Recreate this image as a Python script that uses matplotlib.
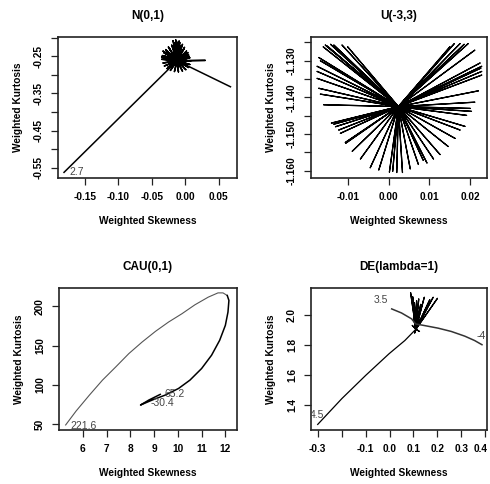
import matplotlib
matplotlib.use('Agg')
import matplotlib.pyplot as plt
import matplotlib.transforms as mtransforms

plt.rcParams['font.family'] = ['Liberation Sans', 'DejaVu Sans']

# ---- N(0,1) ----
n01_tail_x = [-0.181]
n01_tail_y = [-0.5625]
n01_center = (-0.012, -0.262)
n01_tip_x = [-0.034, -0.035, -0.033, -0.031, -0.027, -0.022, -0.016, -0.010, -0.004, 0.001,
             0.005, 0.007, 0.008, 0.007, 0.005, 0.002, -0.001, -0.004, -0.008, -0.012,
             -0.016, -0.020, -0.025, -0.029, -0.032, -0.018, -0.006, 0.004, -0.030, -0.026,
             -0.035, -0.033, -0.014, -0.009, 0.006, -0.024, -0.028, -0.002]
n01_tip_y = [-0.248, -0.258, -0.268, -0.276, -0.283, -0.288, -0.291, -0.292, -0.290, -0.286,
             -0.280, -0.272, -0.263, -0.254, -0.245, -0.236, -0.226, -0.218, -0.213, -0.212,
             -0.215, -0.220, -0.225, -0.232, -0.240, -0.208, -0.222, -0.240, -0.250, -0.280,
             -0.252, -0.236, -0.206, -0.209, -0.250, -0.228, -0.236, -0.230]
n01_end_x = [0.030, 0.0677]
n01_end_y = [-0.261, -0.332]
n01_label = ('2.7', -0.1615, -0.5615)

# ---- U(-3,3) ----
u_center = (0.0024, -1.1425)
u_tip_x = [-0.0155, -0.0142, -0.0134, -0.0114, -0.0171, -0.0167, -0.0175, -0.0175, -0.0175,
           -0.0171, -0.0167, -0.0159, -0.0150, -0.0160, -0.0100,
           0.0161, 0.0175, 0.0195, 0.0211, 0.0224, 0.0228, 0.0228, 0.0228, 0.0220,
           0.0185, 0.0226, 0.0150,
           0.0211, 0.0203, 0.0191, 0.0187, 0.0200,
           -0.0140, -0.0134, -0.0122, -0.0118, -0.0106, -0.0089, -0.0069, -0.0045,
           -0.0130, -0.0105,
           -0.0024, 0.0002, 0.0020, 0.0034, 0.0053, 0.0073, 0.0094, 0.0110, 0.0126,
           0.0146, 0.0163, 0.0175, 0.0010, 0.0085]
u_tip_y = [-1.1257, -1.1255, -1.1257, -1.1257, -1.1291, -1.1300, -1.1315, -1.1329, -1.1348,
           -1.1375, -1.1391, -1.1420, -1.1260, -1.1262, -1.1262,
           -1.1253, -1.1253, -1.1253, -1.1271, -1.1306, -1.1315, -1.1329, -1.1339, -1.1382,
           -1.1255, -1.1320, -1.1262,
           -1.1413, -1.1438, -1.1449, -1.1479, -1.1430,
           -1.1470, -1.1473, -1.1489, -1.1498, -1.1523, -1.1547, -1.1568, -1.1592,
           -1.1480, -1.1525,
           -1.1598, -1.1604, -1.1605, -1.1605, -1.1595, -1.1583, -1.1579, -1.1568, -1.1556,
           -1.1534, -1.1512, -1.1489, -1.1602, -1.1572]

# ---- CAU(0,1) ----
cau_x = [5.28, 5.72, 6.28, 6.83, 7.39, 7.94, 8.50, 9.06, 9.61, 10.17, 10.72, 11.28, 11.69,
         11.90, 12.08, 12.15, 12.11, 12.00, 11.76, 11.42, 11.00, 10.51, 10.03, 9.47, 8.92,
         8.43, 8.78, 9.26]
cau_y = [49.2, 66.9, 87.1, 106.1, 122.9, 139.8, 154.5, 168.0, 179.8, 190.3, 201.7, 211.4, 216.8,
         216.8, 213.5, 207.2, 192.4, 175.6, 156.6, 137.7, 120.8, 106.1, 95.5, 87.1, 80.8,
         74.5, 80.8, 88.0]
cau_labels = [('221.6', 6.02, 47.9), ('65.2', 9.85, 88.5), ('-30.4', 9.36, 77.4)]

# ---- DE(lambda=1) ----
de_line_x = [-0.300, -0.199, -0.099, -0.002, 0.064, 0.110]
de_line_y = [1.272, 1.444, 1.599, 1.742, 1.830, 1.905]
de_tip_x = [0.088, 0.097, 0.104, 0.113, 0.122, 0.130, 0.145, 0.155, 0.168, 0.182, 0.200,
            0.120, 0.100, 0.125, 0.095, 0.125, 0.105]
de_tip_y = [2.148, 2.120, 2.080, 2.095, 2.106, 2.070, 2.117, 2.040, 2.101, 2.117, 2.110,
            2.000, 1.980, 1.970, 1.930, 1.890, 1.880]
de_arc_x = [0.009, 0.050, 0.092, 0.109, 0.147, 0.203, 0.258, 0.314, 0.355, 0.386]
de_arc_y = [2.040, 2.013, 1.974, 1.940, 1.929, 1.912, 1.890, 1.859, 1.830, 1.802]
de_labels = [('3.5', -0.035, 2.097), ('-4', 0.383, 1.857), ('4.5', -0.303, 1.334)]


def spokes(center, tx, ty):
    xs, ys = [], []
    for x, y in zip(tx, ty):
        xs += [x, center[0]]
        ys += [y, center[1]]
    return xs, ys


def style_axes(ax, title, xlim, ylim, xticks, xlabels, yticks, ylabels):
    ax.set_xlim(*xlim)
    ax.set_ylim(*ylim)
    ax.set_xticks(xticks, xlabels, fontweight='bold')
    ax.set_yticks(yticks, ylabels, fontweight='bold')
    ax.tick_params(labelsize=7.3, length=5, width=0.9, pad=5, color='#222')
    ax.tick_params(axis='y', labelrotation=90)
    for lab in ax.get_yticklabels():
        lab.set_va('center')
    for s in ax.spines.values():
        s.set_linewidth(1.2)
        s.set_color('#222')
    ax.set_title(title, fontsize=8.5, fontweight='bold', pad=13)
    ax.set_xlabel('Weighted Skewness', fontsize=7.3, fontweight='bold')
    ax.set_ylabel('Weighted Kurtosis', fontsize=7.3, fontweight='bold')
    bb = ax.get_position()
    w_px = bb.width * 490
    h_px = bb.height * 484
    ax.xaxis.set_label_coords(0.5, -42.7 / h_px)
    ax.xaxis.label.set_va('center')
    ax.yaxis.set_label_coords(-40.0 / w_px, 0.5)
    ax.yaxis.label.set_va('center')


fig = plt.figure(figsize=(4.9, 4.84), dpi=100)
ax1 = fig.add_axes([58 / 490, 1 - 178 / 484, 179 / 490, 141 / 484])
ax2 = fig.add_axes([311 / 490, 1 - 178 / 484, 176 / 490, 141 / 484])
ax3 = fig.add_axes([59 / 490, 1 - 430 / 484, 178 / 490, 142 / 484])
ax4 = fig.add_axes([311 / 490, 1 - 430 / 484, 176 / 490, 142 / 484])

line_kw = dict(color='black', linewidth=0.9)
lab_kw = dict(fontsize=7.5, color='#444', ha='center', va='center')

# N(0,1)
sx, sy = spokes(n01_center, n01_tip_x, n01_tip_y)
px = n01_tail_x + [n01_center[0]] + sx + [n01_end_x[0], n01_center[0], n01_end_x[1]]
py = n01_tail_y + [n01_center[1]] + sy + [n01_end_y[0], n01_center[1], n01_end_y[1]]
ax1.plot(px, py, color='black', linewidth=1.1)
ax1.text(n01_label[1], n01_label[2], n01_label[0], **lab_kw)
style_axes(ax1, 'N(0,1)', (-0.19, 0.0775), (-0.5777, -0.198),
           [-0.15, -0.10, -0.05, 0.00, 0.05], ['-0.15', '-0.10', '-0.05', '0.00', '0.05'],
           [-0.55, -0.50, -0.45, -0.40, -0.35, -0.30, -0.25, -0.20],
           ['-0.55', '', '-0.45', '', '-0.35', '', '-0.25', ''])

# U(-3,3)
sx, sy = spokes(u_center, u_tip_x, u_tip_y)
ax2.plot([u_center[0]] + sx, [u_center[1]] + sy, **line_kw)
style_axes(ax2, 'U(-3,3)', (-0.019, 0.0241), (-1.162, -1.1235),
           [-0.01, 0.00, 0.01, 0.02], ['-0.01', '0.00', '0.01', '0.02'],
           [-1.160, -1.155, -1.150, -1.145, -1.140, -1.135, -1.130, -1.125],
           ['-1.160', '', '-1.150', '', '-1.140', '', '-1.130', ''])

# CAU(0,1): upper branch drawn lighter, lower branch darker
split = 14
ax3.plot(cau_x[:split + 1], cau_y[:split + 1], color='#555', linewidth=0.8)
ax3.plot(cau_x[split:], cau_y[split:], color='black', linewidth=1.1)
for t, x, y in cau_labels:
    ax3.text(x, y, t, **lab_kw)
style_axes(ax3, 'CAU(0,1)', (5.0, 12.49), (42.8, 223.0),
           [6, 7, 8, 9, 10, 11, 12], ['6', '7', '8', '9', '10', '11', '12'],
           [50, 100, 150, 200], ['50', '100', '150', '200'])

# DE(lambda=1)
sx, sy = spokes((de_line_x[-1], de_line_y[-1]), de_tip_x, de_tip_y)
ax4.plot(de_line_x + sx, de_line_y + sy, **line_kw)
ax4.plot(de_arc_x, de_arc_y, color='#333', linewidth=1.1)
for t, x, y in de_labels:
    ax4.text(x, y, t, **lab_kw)
style_axes(ax4, 'DE(lambda=1)', (-0.328, 0.407), (1.235, 2.179),
           [-0.3, -0.2, -0.1, 0.0, 0.1, 0.2, 0.3, 0.4],
           ['-0.3', '', '-0.1', '0.0', '0.1', '0.2', '0.3', '0.4'],
           [1.4, 1.6, 1.8, 2.0], ['1.4', '1.6', '1.8', '2.0'])
# keep the last x label inside the figure edge
last = ax4.get_xticklabels()[-1]
last.set_transform(last.get_transform() +
                   mtransforms.ScaledTranslation(-5 / 100, 0, fig.dpi_scale_trans))

fig.savefig('out.png', dpi=100)
